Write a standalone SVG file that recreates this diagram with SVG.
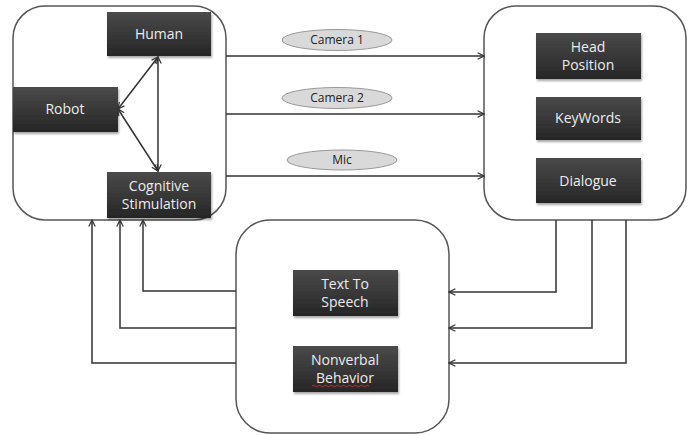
<svg xmlns="http://www.w3.org/2000/svg" width="688" height="435" viewBox="0 0 688 435">
<defs>
<linearGradient id="g" x1="0" y1="0" x2="0" y2="1">
<stop offset="0" stop-color="#4a4a4a"/>
<stop offset="1" stop-color="#262626"/>
</linearGradient>
<marker id="a" viewBox="0 0 10 10" refX="9" refY="5" markerWidth="8" markerHeight="8" orient="auto-start-reverse" markerUnits="userSpaceOnUse">
<path d="M1,1 L9,5 L1,9" fill="none" stroke="#333" stroke-width="1.5"/>
</marker>
<filter id="sh" x="-10%" y="-10%" width="130%" height="140%">
<feDropShadow dx="1" dy="2" stdDeviation="1.2" flood-color="#000" flood-opacity="0.35"/>
</filter>
</defs>
<style>
.cont{fill:#fff;stroke:#555;stroke-width:1.5}
.box{fill:url(#g);filter:url(#sh)}
.bt{fill:#ececec;font-family:"Open Sans","Liberation Sans",sans-serif;font-size:14px;text-anchor:middle}
.ell{fill:#d9d9d9;stroke:#999;stroke-width:1}
.et{fill:#222;font-family:"Open Sans","Liberation Sans",sans-serif;font-size:12px;text-anchor:middle}
.c{fill:none;stroke:#333;stroke-width:1.5;marker-end:url(#a)}
.cb{fill:none;stroke:#333;stroke-width:1.5;marker-end:url(#a);marker-start:url(#a)}
</style>
<g id="left-container"><rect class="cont" x="13" y="6" width="213" height="214" rx="32"/></g>
<g id="right-container"><rect class="cont" x="484" y="6" width="202" height="214" rx="32"/></g>
<g id="bottom-container"><rect class="cont" x="236" y="220" width="213" height="213" rx="34"/></g>
<g id="human"><rect class="box" x="107" y="12" width="104" height="44"/><text class="bt" x="159" y="39">Human</text></g>
<g id="robot"><rect class="box" x="13" y="87" width="105" height="45"/><text class="bt" x="65" y="114">Robot</text></g>
<g id="cognitive"><rect class="box" x="107" y="172" width="104" height="46"/><text class="bt" x="159" y="191">Cognitive</text><text class="bt" x="159" y="209">Stimulation</text></g>
<g id="head"><rect class="box" x="536" y="33" width="105" height="46"/><text class="bt" x="588" y="52">Head</text><text class="bt" x="588" y="70">Position</text></g>
<g id="keywords"><rect class="box" x="536" y="97" width="105" height="43"/><text class="bt" x="588" y="123">KeyWords</text></g>
<g id="dialogue"><rect class="box" x="536" y="158" width="105" height="45"/><text class="bt" x="588" y="186">Dialogue</text></g>
<g id="tts"><rect class="box" x="293" y="270" width="105" height="46"/><text class="bt" x="345" y="289">Text To</text><text class="bt" x="345" y="307">Speech</text></g>
<g id="nonverbal"><rect class="box" x="293" y="346" width="105" height="46"/><text class="bt" x="345" y="365">Nonverbal</text><text class="bt" x="345" y="383">Behavior</text>
<path d="M312,386 q1.5,-1.5 3,0 t3,0 t3,0 t3,0 t3,0 t3,0 t3,0 t3,0 t3,0 t3,0 t3,0 t3,0 t3,0 t3,0 t3,0 t3,0 t3,0 t3,0 t3,0" fill="none" stroke="#d33" stroke-width="0.8"/></g>
<g id="camera1"><ellipse class="ell" cx="337" cy="40" rx="55" ry="10.5"/><text class="et" x="337" y="44">Camera 1</text></g>
<g id="camera2"><ellipse class="ell" cx="337" cy="98" rx="55" ry="10.5"/><text class="et" x="337" y="102">Camera 2</text></g>
<g id="mic"><ellipse class="ell" cx="342" cy="160" rx="55" ry="10"/><text class="et" x="342" y="164">Mic</text></g>
<g id="connectors">
<path class="cb" d="M118,109 L158,57"/>
<path class="cb" d="M118,109 L158,171"/>
<path class="cb" d="M158,57 L158,171"/>
<path class="c" d="M226,56 L484,56"/>
<path class="c" d="M226,114 L484,114"/>
<path class="c" d="M226,176 L484,176"/>
<path class="c" d="M556,220 L556,292 L449,292"/>
<path class="c" d="M592,220 L592,328 L449,328"/>
<path class="c" d="M626,220 L626,363 L449,363"/>
<path class="c" d="M236,291 L143,291 L143,220"/>
<path class="c" d="M236,328 L120,328 L120,220"/>
<path class="c" d="M236,363 L92,363 L92,220"/>
</g>
</svg>
